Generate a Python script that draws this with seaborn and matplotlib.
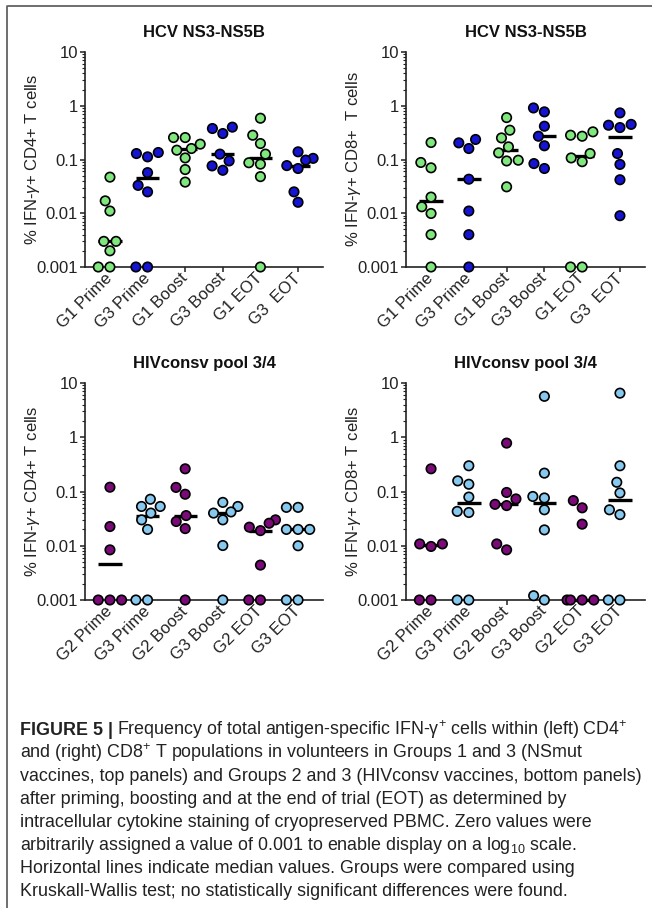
import numpy as np
import pandas as pd
import matplotlib
matplotlib.use("Agg")
import matplotlib.pyplot as plt
import seaborn as sns
from matplotlib.ticker import FixedLocator, FixedFormatter, LogLocator, NullFormatter
from matplotlib.lines import Line2D

# ---------------- data ----------------
top_categories = ["G1 Prime", "G3 Prime", "G1 Boost", "G3 Boost", "G1 EOT", "G3  EOT"]
top_groups = ["G1", "G3", "G1", "G3", "G1", "G3"]
bottom_categories = ["G2 Prime", "G3 Prime", "G2 Boost", "G3 Boost", "G2 EOT", "G3 EOT"]
bottom_groups = ["G2", "G3", "G2", "G3", "G2", "G3"]

ytick_values = [0.001, 0.01, 0.1, 1, 10]
ytick_labels = ["0.001", "0.01", "0.1", "1", "10"]

hcv_cd4 = [
    [0.047, 0.017, 0.011, 0.003, 0.003, 0.002, 0.001, 0.001],
    [0.135, 0.129, 0.112, 0.057, 0.033, 0.025, 0.001, 0.001],
    [0.256, 0.256, 0.193, 0.16, 0.149, 0.107, 0.065, 0.038],
    [0.40, 0.377, 0.304, 0.126, 0.094, 0.076, 0.063],
    [0.586, 0.283, 0.198, 0.126, 0.087, 0.082, 0.048, 0.001],
    [0.139, 0.105, 0.0975, 0.077, 0.068, 0.025, 0.016],
]
hcv_cd8 = [
    [0.207, 0.088, 0.070, 0.020, 0.0132, 0.0099, 0.004, 0.001],
    [0.236, 0.204, 0.16, 0.043, 0.011, 0.004, 0.001],
    [0.602, 0.351, 0.252, 0.172, 0.133, 0.097, 0.094, 0.031],
    [0.91, 0.77, 0.416, 0.271, 0.18, 0.084, 0.068],
    [0.327, 0.283, 0.271, 0.129, 0.107, 0.091, 0.001, 0.001],
    [0.736, 0.45, 0.434, 0.393, 0.129, 0.081, 0.042, 0.009],
]
hiv_cd4 = [
    [0.12, 0.0226, 0.0084, 0.001, 0.001, 0.001],
    [0.072, 0.053, 0.053, 0.040, 0.030, 0.020, 0.001, 0.001],
    [0.262, 0.119, 0.089, 0.036, 0.028, 0.0207, 0.001],
    [0.063, 0.053, 0.042, 0.040, 0.030, 0.0101, 0.001],
    [0.030, 0.026, 0.022, 0.019, 0.0044, 0.001, 0.001],
    [0.051, 0.051, 0.020, 0.020, 0.020, 0.010, 0.001, 0.001],
]
hiv_cd8 = [
    [0.262, 0.0108, 0.0108, 0.0097, 0.001, 0.001],
    [0.298, 0.157, 0.136, 0.079, 0.043, 0.041, 0.001, 0.001],
    [0.78, 0.096, 0.073, 0.058, 0.055, 0.0108, 0.0084],
    [5.68, 0.218, 0.081, 0.076, 0.046, 0.0196, 0.0012, 0.001],
    [0.068, 0.050, 0.025, 0.001, 0.001, 0.001, 0.001],
    [6.5, 0.298, 0.148, 0.094, 0.046, 0.0375, 0.001, 0.001],
]

palette = {"G1": "#80E67E", "G2": "#7A0A78", "G3": "#1414D2"}
palette_bottom = {"G2": "#7A0A78", "G3": "#86C8EE"}

caption_lines = [
    "Frequency of total antigen-specific IFN-\u03b3$^{+}$ cells within (left) CD4$^{+}$",
    "and (right) CD8$^{+}$ T populations in volunteers in Groups 1 and 3 (NSmut",
    "vaccines, top panels) and Groups 2 and 3 (HIVconsv vaccines, bottom panels)",
    "after priming, boosting and at the end of trial (EOT) as determined by",
    "intracellular cytokine staining of cryopreserved PBMC. Zero values were",
    "arbitrarily assigned a value of 0.001 to enable display on a log$_{10}$ scale.",
    "Horizontal lines indicate median values. Groups were compared using",
    "Kruskall-Wallis test; no statistically significant differences were found.",
]

# ---------------- style ----------------
sns.set_style("ticks")
plt.rcParams["font.family"] = ["Liberation Sans", "DejaVu Sans"]
plt.rcParams["mathtext.fontset"] = "custom"
plt.rcParams["mathtext.rm"] = "Liberation Sans"
plt.rcParams["mathtext.it"] = "Liberation Sans:italic"
plt.rcParams["mathtext.bf"] = "Liberation Sans:bold"

W, H = 652, 908
fig = plt.figure(figsize=(W / 100, H / 100), dpi=100)


def px_axes(left, top, right, bottom):
    return fig.add_axes([left / W, 1 - bottom / H, (right - left) / W, (bottom - top) / H])


def draw_panel(ax, values, cats, groups, pal, title, ylabel):
    rows = []
    for c, g, vals in zip(cats, groups, values):
        for v in vals:
            rows.append({"cat": c, "val": v, "grp": g})
    df = pd.DataFrame(rows)
    # median lines (under the dots)
    for i, vals in enumerate(values):
        ax.hlines(np.median(vals), i - 0.31, i + 0.31, color="black", lw=2.4, zorder=1)
    sns.swarmplot(data=df, x="cat", y="val", hue="grp", palette=pal, order=cats,
                  size=6.8, edgecolor="black", linewidth=1.2, legend=False,
                  log_scale=True, ax=ax, zorder=3, warn_thresh=1.0)
    for coll in ax.collections:
        coll.set_clip_on(False)
    ax.set_yscale("log")
    ax.set_ylim(0.001, 10)
    ax.set_xlim(-0.663, 5.663)
    ax.yaxis.set_major_locator(FixedLocator(ytick_values))
    ax.yaxis.set_major_formatter(FixedFormatter(ytick_labels))
    ax.yaxis.set_minor_locator(LogLocator(base=10, subs=np.arange(2, 10)))
    ax.yaxis.set_minor_formatter(NullFormatter())
    ax.set_xticks(range(len(cats)))
    ax.set_xticklabels(cats, rotation=45, ha="right", va="center", rotation_mode="anchor")
    ax.tick_params(axis="both", which="major", length=3.5, width=1.1, labelsize=12,
                   color="#222222", labelcolor="#222222")
    ax.tick_params(axis="y", which="major", pad=1.5)
    ax.tick_params(axis="x", which="major", pad=3)
    ax.tick_params(axis="y", which="minor", length=2, width=0.8, color="#222222")
    for s in ["top", "right"]:
        ax.spines[s].set_visible(False)
    for s in ["left", "bottom"]:
        ax.spines[s].set_linewidth(1.2)
        ax.spines[s].set_color("#222222")
    ax.set_xlabel("")
    ax.set_ylabel(ylabel, fontsize=12, color="#222222")
    ax.yaxis.set_label_coords(-0.18, 0.5)
    ax.set_title(title, fontsize=12, fontweight="bold", pad=11, color="#111111")


ax1 = px_axes(85, 52, 323, 267)
ax2 = px_axes(406, 52, 645, 267)
ax3 = px_axes(85, 383, 323, 600)
ax4 = px_axes(406, 383, 645, 600)

draw_panel(ax1, hcv_cd4, top_categories, top_groups, palette, "HCV NS3-NS5B",
           "% IFN-$\\gamma$+ CD4+ T cells")
draw_panel(ax2, hcv_cd8, top_categories, top_groups, palette, "HCV NS3-NS5B",
           "% IFN-$\\gamma$+ CD8+  T cells")
draw_panel(ax3, hiv_cd4, bottom_categories, bottom_groups, palette_bottom, "HIVconsv pool 3/4",
           "% IFN-$\\gamma$+ CD4+ T cells")
draw_panel(ax4, hiv_cd8, bottom_categories, bottom_groups, palette_bottom, "HIVconsv pool 3/4",
           "% IFN-$\\gamma$+ CD8+ T cells")

# frame lines
fig.add_artist(Line2D([8 / W, 1], [1 - 6 / H, 1 - 6 / H], transform=fig.transFigure,
                      color="#555555", lw=1.2))
fig.add_artist(Line2D([7 / W, 7 / W], [0, 1 - 6 / H], transform=fig.transFigure,
                      color="#555555", lw=1.2))

# caption
cap_size = 12.9
x0 = 20 / W
first_base = 735
spacing = 23.0
t1 = fig.text(x0, 1 - first_base / H, "FIGURE 5 |", fontsize=cap_size, fontweight="bold",
              color="#222222", va="baseline")
fig.canvas.draw()
bb = t1.get_window_extent()
fig.text(bb.x1 / W + 4 / W, 1 - first_base / H, caption_lines[0], fontsize=cap_size,
         color="#222222", va="baseline")
for k, line in enumerate(caption_lines[1:], start=1):
    fig.text(x0, 1 - (first_base + spacing * k) / H, line, fontsize=cap_size,
             color="#222222", va="baseline")

fig.savefig("out.png", dpi=100)
